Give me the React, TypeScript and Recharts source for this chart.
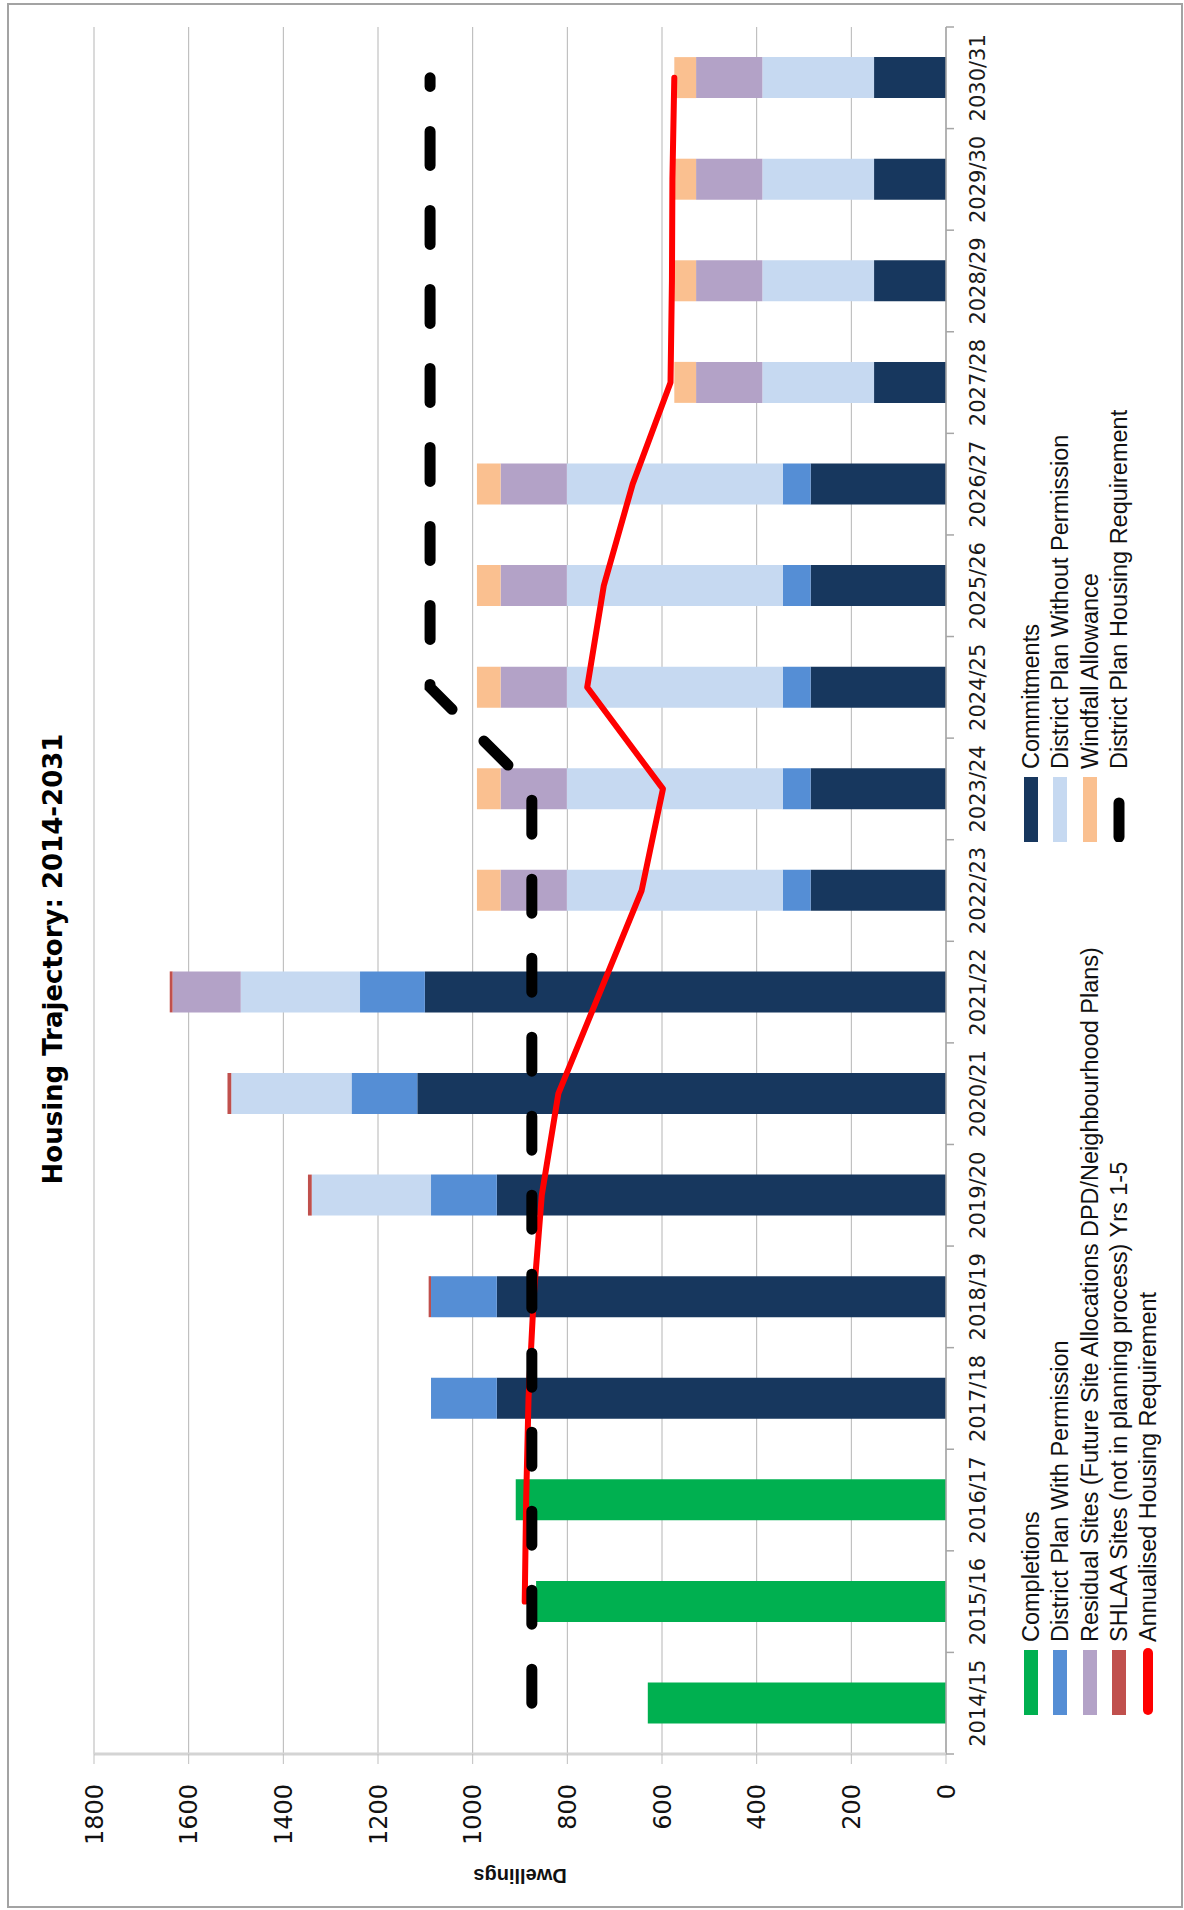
import { ComposedChart, Bar, Line, XAxis, YAxis, CartesianGrid, Legend } from "recharts";

const categories = [
  "2014/15", "2015/16", "2016/17", "2017/18", "2018/19", "2019/20", "2020/21", "2021/22", "2022/23",
  "2023/24", "2024/25", "2025/26", "2026/27", "2027/28", "2028/29", "2029/30", "2030/31",
];

const completions = [630, 866, 909, 0, 0, 0, 0, 0, 0, 0, 0, 0, 0, 0, 0, 0, 0];
const commitments = [0, 0, 0, 949, 949, 949, 1117, 1101, 286, 286, 286, 286, 286, 152, 152, 152, 152];
const withPermission = [0, 0, 0, 139, 139, 139, 139, 137, 59, 59, 59, 59, 59, 0, 0, 0, 0];
const withoutPermission = [0, 0, 0, 0, 0, 252, 254, 252, 456, 456, 456, 456, 456, 236, 236, 236, 236];
const residualSites = [0, 0, 0, 0, 0, 0, 0, 144, 140, 140, 140, 140, 140, 140, 140, 140, 140];
const windfall = [0, 0, 0, 0, 0, 0, 0, 0, 50, 50, 50, 50, 50, 46, 46, 46, 46];
const shlaaSites = [0, 0, 0, 0, 5, 8, 8, 6, 0, 0, 0, 0, 0, 0, 0, 0, 0];
const planRequirement = [875, 875, 875, 875, 875, 875, 875, 875, 875, 875, 1090, 1090, 1090, 1090, 1090, 1090, 1090];
const annualisedRequirement = [null, 890, 887, 882, 871, 854, 819, 731, 643, 598, 758, 723, 662, 582, 579, 578, 574];

const valueTicks = [0, 200, 400, 600, 800, 1000, 1200, 1400, 1600, 1800];

const data = categories.map((year, i) => ({
  year,
  completions: completions[i],
  commitments: commitments[i],
  withPermission: withPermission[i],
  withoutPermission: withoutPermission[i],
  residualSites: residualSites[i],
  windfall: windfall[i],
  shlaaSites: shlaaSites[i],
  planRequirement: planRequirement[i],
  annualisedRequirement: annualisedRequirement[i],
}));

const barSeries = [
  { key: "completions", name: "Completions", color: "#00b050" },
  { key: "commitments", name: "Commitments", color: "#17375e" },
  { key: "withPermission", name: "District Plan With Permission", color: "#558ed5" },
  { key: "withoutPermission", name: "District Plan Without Permission", color: "#c6d9f1" },
  { key: "residualSites", name: "Residual Sites (Future Site Allocations DPD/Neighbourhood Plans)", color: "#b3a2c7" },
  { key: "windfall", name: "Windfall Allowance", color: "#fac090" },
  { key: "shlaaSites", name: "SHLAA Sites (not in planning process) Yrs 1-5", color: "#c0504d" },
];

// legend is laid out row by row in two columns, like the original
const legendItems = [
  ...barSeries.map((s) => ({ ...s, kind: "bar" })),
  { key: "planRequirement", name: "District Plan Housing Requirement", color: "#000000", kind: "dash" },
  { key: "annualisedRequirement", name: "Annualised Housing Requirement", color: "#ff0000", kind: "line" },
];

const W = 1910;
const H = 1184;
const bandHalf = 1727 / categories.length / 2;

function CategoryTick(props: any) {
  const { x, y, payload, index } = props;
  const half = payload && payload.offset ? payload.offset : bandHalf;
  const axisY = y - 24;
  return (
    <g>
      <line x1={x - half} y1={axisY} x2={x - half} y2={axisY + 8} stroke="#a6a6a6" strokeWidth={1.5} />
      {index === categories.length - 1 && (
        <line x1={x + half} y1={axisY} x2={x + half} y2={axisY + 8} stroke="#a6a6a6" strokeWidth={1.5} />
      )}
      <text x={x} y={y} dy="0.71em" textAnchor="middle" fontSize={21} fontFamily="DejaVu Sans" fill="#1a1a1a">
        {payload.value}
      </text>
    </g>
  );
}

function HousingLegend() {
  const columns = [195, 1068];
  return (
    <div style={{ position: "relative", width: W, height: H }}>
      {legendItems.map((item, i) => {
        const col = i % 2;
        const row = Math.floor(i / 2);
        const center = 1031 + row * 29.3;
        return (
          <div
            key={item.key}
            style={{
              position: "absolute",
              left: columns[col],
              top: center - 15,
              height: 30,
              display: "flex",
              alignItems: "center",
              whiteSpace: "nowrap",
            }}
          >
            <svg width={73} height={30} style={{ flex: "none" }}>
              {item.kind === "bar" && <rect x={0} y={8} width={65} height={14} fill={item.color} />}
              {item.kind === "line" && (
                <line x1={5} y1={15} x2={62} y2={15} stroke={item.color} strokeWidth={10} strokeLinecap="round" />
              )}
              {item.kind === "dash" && (
                <line x1={5} y1={15} x2={67} y2={15} stroke={item.color} strokeWidth={11} strokeLinecap="round" strokeDasharray="34 45" />
              )}
            </svg>
            <span style={{ fontFamily: "Liberation Sans, Arial", fontSize: 23.5, color: "#111", lineHeight: "30px" }}>
              {item.name}
            </span>
          </div>
        );
      })}
    </div>
  );
}

export default function App() {
  return (
    <div style={{ position: "absolute", left: 0, top: 0, width: 1184, height: 1910, overflow: "hidden", background: "#fff" }}>
      <div
        style={{
          position: "absolute",
          left: 7,
          top: 3,
          width: 1176,
          height: 1905,
          border: "2px solid #a3a3a3",
          boxSizing: "border-box",
        }}
      />
      {/* the chart is drawn upright and then turned a quarter turn, as in the reference */}
      <div
        style={{
          position: "absolute",
          left: 0,
          top: 0,
          width: W,
          height: H,
          transform: `translateY(${W}px) rotate(-90deg)`,
          transformOrigin: "0 0",
          fontFamily: "DejaVu Sans",
        }}
      >
        <div
          style={{
            position: "absolute",
            left: 0,
            top: 40,
            width: 1902,
            textAlign: "center",
            fontSize: 26,
            lineHeight: "26px",
            fontWeight: "bold",
            color: "#000",
            zIndex: 2,
          }}
        >
          Housing Trajectory: 2014-2031
        </div>
        <ComposedChart
          width={W}
          height={H}
          data={data}
          margin={{ top: 94, right: 27, bottom: 178, left: 56 }}
          barCategoryGap="30%"
        >
          <CartesianGrid vertical={false} stroke="#b5b5b5" />
          <XAxis
            dataKey="year"
            interval={0}
            height={60}
            axisLine={{ stroke: "#a6a6a6", strokeWidth: 1.5 }}
            tickLine={false}
            tickSize={8}
            tickMargin={16}
            tick={<CategoryTick />}
          />
          <YAxis
            domain={[0, 1800]}
            ticks={valueTicks}
            width={100}
            axisLine={{ stroke: "#d4d4d4", strokeWidth: 3 }}
            tickLine={{ stroke: "#bfbfbf" }}
            tickSize={10}
            tickMargin={20}
            tick={{ fontSize: 24, fontFamily: "DejaVu Sans", fill: "#111" }}
            label={(props: any) => {
              const vb = props.viewBox || { y: 94, height: 852 };
              const cy = vb.y + vb.height / 2;
              return (
                <text
                  x={34}
                  y={cy}
                  transform={`rotate(-90 34 ${cy})`}
                  textAnchor="middle"
                  dominantBaseline="central"
                  fontFamily="Liberation Sans, Arial"
                  fontWeight="bold"
                  fontSize={20}
                  fill="#111"
                >
                  Dwellings
                </text>
              );
            }}
          />
          {barSeries.map((s) => (
            <Bar key={s.key} dataKey={s.key} name={s.name} stackId="s" fill={s.color} isAnimationActive={false} />
          ))}
          <Line
            type="linear"
            dataKey="annualisedRequirement"
            name="Annualised Housing Requirement"
            stroke="#ff0000"
            strokeWidth={6}
            strokeLinecap="round"
            strokeLinejoin="round"
            dot={false}
            activeDot={false}
            isAnimationActive={false}
          />
          <Line
            type="linear"
            dataKey="planRequirement"
            name="District Plan Housing Requirement"
            stroke="#000000"
            strokeWidth={11}
            strokeDasharray="34 45"
            strokeLinecap="round"
            dot={false}
            activeDot={false}
            isAnimationActive={false}
          />
          <Legend
            layout="horizontal"
            verticalAlign="middle"
            align="center"
            content={() => <HousingLegend />}
            wrapperStyle={{ left: 0, top: 0, width: W, height: H, pointerEvents: "none" }}
          />
        </ComposedChart>
      </div>
    </div>
  );
}
